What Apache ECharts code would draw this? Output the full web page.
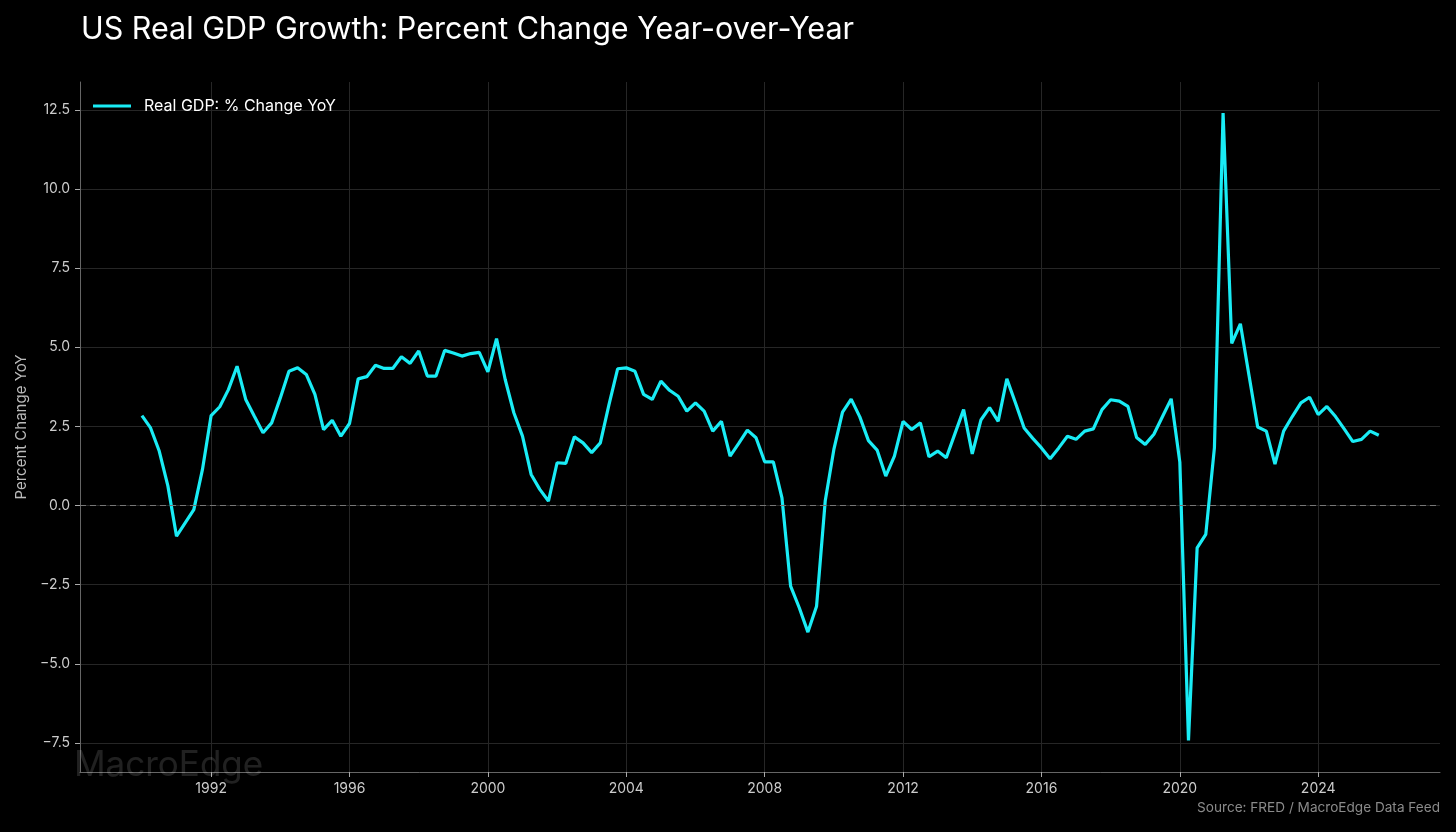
<!DOCTYPE html>
<html>
<head>
<meta charset="utf-8">
<title>US Real GDP Growth</title>
<script src="https://cdn.jsdelivr.net/npm/echarts@6.0.0/dist/echarts.min.js"></script>
<style>
  html, body { margin: 0; padding: 0; background: #000; }
  #chart { width: 1456px; height: 832px; }
</style>
</head>
<body>
<div id="chart"></div>

<script>
  // 数据 季度同比 从1990 Q1开始
  var startYear = 1990;
  var quarterLabels = ["Q1", "Q2", "Q3", "Q4"];
  var gdpYoY = [
    2.84, 2.45, 1.72, 0.62,     // 1990
    -0.97, -0.55, -0.13, 1.14,  // 1991
    2.84, 3.12, 3.66, 4.40,     // 1992
    3.35, 2.82, 2.30, 2.61,     // 1993
    3.40, 4.24, 4.35, 4.14,     // 1994
    3.51, 2.40, 2.69, 2.19,     // 1995
    2.59, 4.00, 4.07, 4.43,     // 1996
    4.33, 4.33, 4.70, 4.49,     // 1997
    4.88, 4.09, 4.09, 4.90,     // 1998
    4.82, 4.72, 4.80, 4.84,     // 1999
    4.22, 5.27, 3.98, 2.93,     // 2000
    2.19, 0.98, 0.51, 0.14,     // 2001
    1.35, 1.33, 2.17, 1.98,     // 2002
    1.67, 1.98, 3.19, 4.32,     // 2003
    4.35, 4.24, 3.51, 3.35,     // 2004
    3.93, 3.64, 3.45, 2.98,     // 2005
    3.24, 2.98, 2.35, 2.66,     // 2006
    1.56, 1.96, 2.38, 2.14,     // 2007
    1.38, 1.38, 0.24, -2.55,    // 2008
    -3.23, -4.00, -3.18, 0.14,  // 2009
    1.77, 2.95, 3.36, 2.80,     // 2010
    2.05, 1.75, 0.93, 1.56,     // 2011
    2.66, 2.40, 2.61, 1.54,     // 2012
    1.72, 1.51, 2.27, 3.03,     // 2013
    1.63, 2.70, 3.09, 2.66,     // 2014
    4.00, 3.24, 2.45, 2.12,     // 2015
    1.82, 1.48, 1.82, 2.19,     // 2016
    2.09, 2.35, 2.42, 3.03,     // 2017
    3.34, 3.30, 3.13, 2.15,     // 2018
    1.93, 2.25, 2.81, 3.37,     // 2019
    1.37, -7.42, -1.34, -0.91,  // 2020
    1.83, 12.40, 5.12, 5.74,    // 2021
    4.11, 2.48, 2.35, 1.31,     // 2022
    2.35, 2.81, 3.24, 3.42,     // 2023
    2.87, 3.13, 2.81, 2.42,     // 2024
    2.02, 2.09, 2.35, 2.22      // 2025
  ];
  var xTicks = [1992, 1996, 2000, 2004, 2008, 2012, 2016, 2020, 2024];
  var yTicks = [-7.5, -5.0, -2.5, 0.0, 2.5, 5.0, 7.5, 10.0, 12.5];

  var App = {};

  App.init = function(){
    var _this = this;

    // 季度 -> 小数年份
    _this.F_points = function(){
      var pts = [];
      for (var i = 0; i < gdpYoY.length; i++) {
        var year = startYear + Math.floor(i / 4);
        var q = i % 4;
        pts.push({
          name: year + " " + quarterLabels[q],
          value: [year + q / 4, gdpYoY[i]]
        });
      }
      return pts;
    }

    _this.F_loadChart = function(){
      var chart = echarts.init(document.getElementById("chart"));
      var font = "Inter";

      var option = {
        backgroundColor: "#000",
        animation: false,
        textStyle: { fontFamily: font },
        title: {
          text: "US Real GDP Growth: Percent Change Year-over-Year",
          left: 76,
          top: 9,
          textStyle: { color: "#fff", fontSize: 30.5, fontWeight: "normal", fontFamily: font }
        },
        legend: {
          left: 88,
          top: 93,
          icon: "rect",
          itemWidth: 38,
          itemHeight: 3,
          textStyle: { color: "#fff", fontSize: 16, fontFamily: font, padding: [0, 0, 0, 8] },
          data: ["Real GDP: % Change YoY"]
        },
        grid: { left: 80, right: 16, top: 82, bottom: 60 },
        xAxis: {
          type: "value",
          min: 1988.21,
          max: 2027.52,
          axisLine: { onZero: false, lineStyle: { color: "#666" } },
          axisTick: { show: true, length: 5, lineStyle: { color: "#aaa" }, customValues: xTicks },
          axisLabel: { color: "#ccc", fontSize: 14, margin: 10, customValues: xTicks, formatter: function(v){ return String(v); } },
          splitLine: { show: true, lineStyle: { color: "#262626" } }
        },
        yAxis: {
          type: "value",
          min: -8.42,
          max: 13.38,
          name: "Percent Change YoY",
          nameLocation: "middle",
          nameGap: 46,
          nameTextStyle: { color: "#bbb", fontSize: 15, fontFamily: font },
          axisLine: { show: true, lineStyle: { color: "#666" } },
          axisTick: { show: true, length: 5, lineStyle: { color: "#aaa" }, customValues: yTicks },
          axisLabel: {
            color: "#ccc", fontSize: 14, margin: 10, customValues: yTicks,
            formatter: function(v){ return v.toFixed(1).replace("-", "\u2212"); }
          },
          splitLine: { show: true, lineStyle: { color: "#262626" } }
        },
        graphic: [
          {
            type: "text", left: 74, top: 748, z: 100,
            style: { text: "MacroEdge", fill: "rgba(255,255,255,0.13)", fontSize: 35, fontFamily: font }
          },
          {
            type: "text", right: 16, top: 801,
            style: { text: "Source: FRED / MacroEdge Data Feed", fill: "#8a8a8a", fontSize: 13.6, fontFamily: font }
          }
        ],
        series: [{
          name: "Real GDP: % Change YoY",
          type: "line",
          data: _this.F_points(),
          symbol: "none",
          lineStyle: { color: "#19ECF5", width: 3.2 },
          itemStyle: { color: "#19ECF5" },
          markLine: {
            silent: true,
            symbol: "none",
            label: { show: false },
            lineStyle: { color: "#777", type: [6, 4], width: 1 },
            data: [{ yAxis: 0 }]
          }
        }]
      };

      chart.setOption(option);
    }

    _this.F_loadChart();
  }

  App.init();
</script>
</body>
</html>
